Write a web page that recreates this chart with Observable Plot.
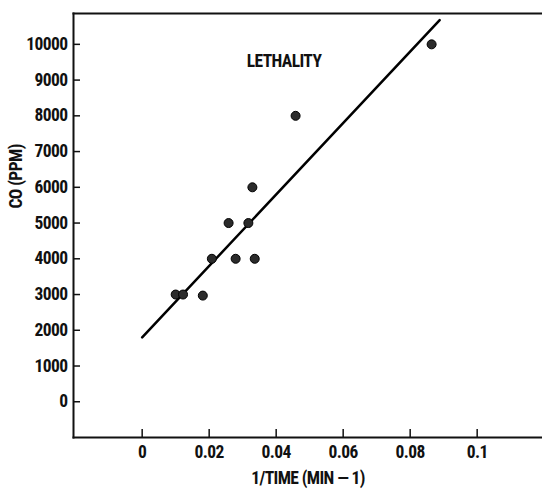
<!DOCTYPE html>
<html>
<head>
<meta charset="utf-8">
<script src="https://cdn.jsdelivr.net/npm/d3@7"></script>
<script src="https://cdn.jsdelivr.net/npm/@observablehq/plot@0.6"></script>
<style>
  html, body { margin: 0; padding: 0; background: #fff; }
  svg text { letter-spacing: -0.6px; }
</style>
</head>
<body>
<div id="chart"></div>
<script>
// Data
const invTime = [0.0100, 0.0122, 0.0181, 0.0208, 0.0258, 0.0279, 0.0317, 0.0329, 0.0336, 0.0458, 0.0864];
const coPpm   = [3000, 3000, 2970, 4000, 5000, 4000, 5000, 6000, 4000, 8000, 10000];
const fitX = [0, 0.0888];
const fitY = [1800, 10680];
const xTicks = [0, 0.02, 0.04, 0.06, 0.08, 0.1];
const yTicks = [0, 1000, 2000, 3000, 4000, 5000, 6000, 7000, 8000, 9000, 10000];
const title = "LETHALITY";
const xLabel = "1/TIME (MIN \u2014 1)";
const yLabel = "CO (PPM)";

const points = invTime.map((x, i) => ({x, y: coPpm[i]}));
const fit = fitX.map((x, i) => ({x, y: fitY[i]}));

const font = "'Liberation Sans Narrow', 'Roboto Condensed', 'DejaVu Sans Condensed', sans-serif";

const chart = Plot.plot({
  width: 542,
  height: 493,
  marginLeft: 73,
  marginRight: 0,
  marginTop: 13,
  marginBottom: 56,
  style: {fontFamily: font, fontWeight: "bold", fontSize: "17.5px", color: "#111", background: "#fff"},
  x: {domain: [-0.0205, 0.1195]},
  y: {domain: [-1000, 10863]},
  marks: [
    Plot.frame({anchor: "top", strokeWidth: 2}),
    Plot.frame({anchor: "left", strokeWidth: 2}),
    Plot.frame({anchor: "bottom", strokeWidth: 2}),
    Plot.axisY({ticks: yTicks, tickSize: -7, tickPadding: 13, tickFormat: d3.format("d"), label: null, strokeWidth: 1.5}),
    Plot.axisX({ticks: xTicks, tickSize: -8, tickPadding: 16, tickFormat: d => `${d}`, label: null, strokeWidth: 1.5}),
    Plot.line(fit, {x: "x", y: "y", stroke: "#000", strokeWidth: 2.5}),
    Plot.dot(points, {x: "x", y: "y", r: 4.5, fill: "#2b2b2b", stroke: "#000", strokeWidth: 1}),
    Plot.text([title], {frameAnchor: "top", dx: -24, dy: 41, fontSize: 17.5, fontWeight: "bold"}),
    Plot.text([xLabel], {frameAnchor: "bottom", dy: 46, fontSize: 17.5, fontWeight: "bold", style: "letter-spacing:0.3px"}),
    Plot.text([yLabel], {frameAnchor: "left", dx: -57, dy: -17, rotate: -90, fontSize: 17.5, fontWeight: "bold"})
  ]
});
document.getElementById("chart").appendChild(chart);
</script>
</body>
</html>
